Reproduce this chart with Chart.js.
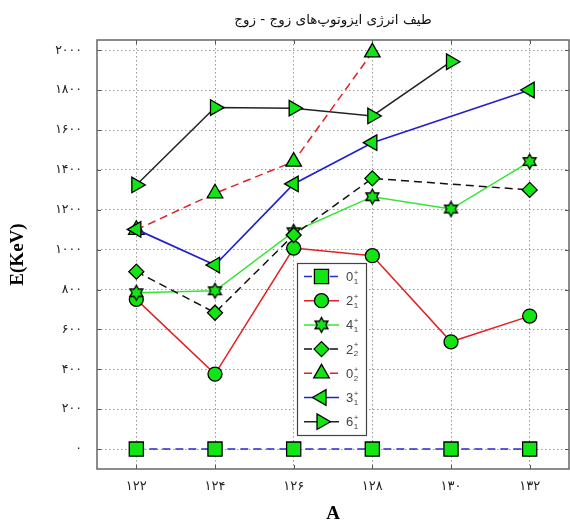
<!DOCTYPE html>
<html><head><meta charset="utf-8">
<script src="https://cdn.jsdelivr.net/npm/chart.js@4/dist/chart.umd.min.js"></script>
<style>html,body{margin:0;padding:0;background:#fff;} #wrap{width:570px;height:525px;}</style>
</head><body><div id="wrap"><canvas id="c" width="570" height="525"></canvas></div>
<script>
// ---- data ----
const massNumbers = [122, 124, 126, 128, 130, 132];
const xTickLabels = ['۱۲۲', '۱۲۴', '۱۲۶', '۱۲۸', '۱۳۰', '۱۳۲'];
const yTickValues = [0, 200, 400, 600, 800, 1000, 1200, 1400, 1600, 1800, 2000];
const yTickLabels = ['۰', '۲۰۰', '۴۰۰', '۶۰۰', '۸۰۰', '۱۰۰۰', '۱۲۰۰', '۱۴۰۰', '۱۶۰۰', '۱۸۰۰', '۲۰۰۰'];
const stateLabels = ['0₁⁺', '2₁⁺', '4₁⁺', '2₂⁺', '0₂⁺', '3₁⁺', '6₁⁺'];
const e0_1 = [0, 0, 0, 0, 0, 0];
const e2_1 = [751, 376, 1008, 970, 538, 667];
const e4_1 = [784, 794, 1090, 1266, 1204, 1442];
const e2_2 = [890, 684, 1074, 1358, null, 1300];
const e0_2 = [1100, 1283, 1442, 1990, null, null];
const e3_1 = [1102, 923, 1330, 1537, null, 1801];
const e6_1 = [1325, 1713, 1710, 1671, 1943, null];
const chartTitle = 'طیف انرژی ایزوتوپ‌های زوج - زوج';
const xTitle = 'A';
const yTitle = 'E(KeV)';

// ---- styles ----
const markerFill = '#12e612';
function makeHexagram(R) {
  const s = Math.ceil(R * 2 + 4);
  const c = document.createElement('canvas'); c.width = s; c.height = s;
  const g = c.getContext('2d');
  const cx = s / 2, cy = s / 2, r = R / Math.sqrt(3);
  g.beginPath();
  for (let k = 0; k < 12; k++) {
    const ang = Math.PI / 2 + k * Math.PI / 6;
    const rad = k % 2 === 0 ? R : r;
    const px = cx + rad * Math.cos(ang), py = cy + rad * Math.sin(ang);
    if (k === 0) g.moveTo(px, py); else g.lineTo(px, py);
  }
  g.closePath();
  g.fillStyle = markerFill; g.fill();
  g.lineWidth = 1.3; g.strokeStyle = '#000'; g.stroke();
  return c;
}
const hexagram = makeHexagram(7.5);

const seriesValues = [e0_1, e2_1, e4_1, e2_2, e0_2, e3_1, e6_1];
const seriesStyle = [
  {color: '#2a2ad2', dash: [8, 5], point: 'rect', r: 10, rot: 0, w: 1.5},
  {color: '#e02222', dash: [], point: 'circle', r: 7, rot: 0, w: 1.5},
  {color: '#33e633', dash: [], point: hexagram, r: 8, rot: 0, w: 1.5},
  {color: '#111111', dash: [8, 5], point: 'rectRot', r: 7.5, rot: 0, w: 1.5},
  {color: '#e02222', dash: [8, 5], point: 'triangle', r: 9, rot: 0, w: 1.5},
  {color: '#2020d0', dash: [], point: 'triangle', r: 9, rot: -90, w: 1.7},
  {color: '#222222', dash: [], point: 'triangle', r: 9, rot: 90, w: 1.5}
];

const datasets = seriesValues.map((vals, i) => {
  const st = seriesStyle[i];
  return {
    label: stateLabels[i],
    data: massNumbers.map((m, j) => ({x: m, y: vals[j]})),
    borderColor: st.color,
    borderWidth: st.w,
    borderDash: st.dash,
    pointStyle: st.point,
    pointRadius: st.r,
    pointRotation: st.rot,
    pointBackgroundColor: markerFill,
    pointBorderColor: '#000',
    pointBorderWidth: 1.3,
    spanGaps: true,
    tension: 0,
    fill: false,
    order: -i,
    clip: false
  };
});

const framePlugin = {
  id: 'frame',
  beforeDatasetsDraw(chart) {
    const {ctx, chartArea: a} = chart;
    const xs = chart.scales.x, ys = chart.scales.y;
    ctx.save();
    ctx.strokeStyle = '#555'; ctx.lineWidth = 1;
    ctx.beginPath();
    massNumbers.forEach(v => {
      const px = Math.round(xs.getPixelForValue(v)) + 0.5;
      ctx.moveTo(px, a.bottom); ctx.lineTo(px, a.bottom - 4);
      ctx.moveTo(px, a.top); ctx.lineTo(px, a.top + 4);
    });
    yTickValues.forEach(v => {
      const py = Math.round(ys.getPixelForValue(v)) + 0.5;
      ctx.moveTo(a.left, py); ctx.lineTo(a.left + 4, py);
      ctx.moveTo(a.right, py); ctx.lineTo(a.right - 4, py);
    });
    ctx.stroke();
    ctx.strokeStyle = '#666'; ctx.lineWidth = 1.5;
    ctx.strokeRect(a.left, a.top, a.right - a.left, a.bottom - a.top);
    ctx.restore();
  }
};

const subMap = {'₀': '0', '₁': '1', '₂': '2', '₃': '3'};
const legendPlugin = {
  id: 'innerLegend',
  afterDatasetsDraw(chart) {
    const {ctx, chartArea: a} = chart;
    const bx = a.left + 200, by = a.top + 223, bw = 69, bh = 172, rowH = 24.2;
    ctx.save();
    ctx.fillStyle = '#fff';
    ctx.fillRect(bx, by, bw, bh);
    ctx.strokeStyle = '#444'; ctx.lineWidth = 1.2;
    ctx.strokeRect(bx + 0.5, by + 0.5, bw, bh);
    chart.data.datasets.forEach((ds, i) => {
      const cy = by + 13.5 + i * rowH;
      ctx.save();
      ctx.strokeStyle = ds.borderColor; ctx.lineWidth = ds.borderWidth;
      ctx.setLineDash(ds.borderDash || []);
      ctx.beginPath(); ctx.moveTo(bx + 7, cy); ctx.lineTo(bx + 42, cy); ctx.stroke();
      ctx.restore();
      ctx.save();
      ctx.fillStyle = markerFill; ctx.strokeStyle = '#000'; ctx.lineWidth = 1.3;
      Chart.helpers.drawPoint(ctx, {pointStyle: ds.pointStyle, radius: ds.pointRadius, rotation: ds.pointRotation, borderWidth: 1.3}, bx + 24.5, cy);
      ctx.restore();
      const lab = ds.label;
      const base = lab[0];
      let sub = '', sup = '';
      for (const ch of lab.slice(1)) {
        if (subMap[ch]) sub += subMap[ch]; else if (ch === '⁺') sup += '+';
      }
      ctx.fillStyle = '#444';
      ctx.textAlign = 'left'; ctx.textBaseline = 'middle';
      ctx.font = '13px "Liberation Sans"';
      ctx.fillText(base, bx + 49, cy + 1);
      const w = ctx.measureText(base).width;
      ctx.font = '8px "Liberation Sans"';
      ctx.fillText(sup, bx + 49 + w + 0.5, cy - 4);
      ctx.fillText(sub, bx + 49 + w + 0.5, cy + 5);
    });
    ctx.restore();
  }
};

new Chart(document.getElementById('c'), {
  type: 'line',
  data: {datasets},
  options: {
    responsive: false,
    animation: false,
    layout: {autoPadding: false, padding: {left: 0, right: 1, top: 0, bottom: 0}},
    plugins: {
      legend: {display: false},
      tooltip: {enabled: false},
      title: {
        display: true, text: chartTitle, fullSize: false,
        color: '#111', font: {family: '"DejaVu Sans"', size: 13.5, weight: 'normal'},
        padding: {top: 12, bottom: 11.8}
      }
    },
    scales: {
      x: {
        type: 'linear', min: 121, max: 133,
        afterBuildTicks: s => { s.ticks = massNumbers.map(v => ({value: v})); },
        afterFit: s => { s.height = 56; s.paddingLeft = 0; s.paddingRight = 0; },
        ticks: {
          callback: (v, i) => xTickLabels[i],
          padding: 10, color: '#222', font: {family: '"DejaVu Sans"', size: 13}, maxRotation: 0
        },
        grid: {color: '#9a9a9a', lineWidth: 1, drawTicks: false},
        border: {display: false, dash: [1.5, 2.5]},
        title: {display: true, text: xTitle, color: '#000', font: {family: '"Liberation Serif"', size: 19, weight: 'bold'}, padding: {top: 0, bottom: 0}}
      },
      y: {
        type: 'linear', min: -100, max: 2052,
        afterBuildTicks: s => { s.ticks = yTickValues.map(v => ({value: v})); },
        afterFit: s => { s.width = 97; s.paddingTop = 0; s.paddingBottom = 0; },
        ticks: {
          callback: (v, i) => yTickLabels[i],
          padding: 15, color: '#222', font: {family: '"DejaVu Sans"', size: 12.5}
        },
        grid: {color: '#9a9a9a', lineWidth: 1, drawTicks: false},
        border: {display: false, dash: [1.5, 2.5]},
        title: {display: true, text: yTitle, color: '#000', font: {family: '"Liberation Serif"', size: 19, weight: 'bold'}, padding: {top: 7, bottom: 0}}
      }
    }
  },
  plugins: [framePlugin, legendPlugin]
});
</script>
</body></html>
